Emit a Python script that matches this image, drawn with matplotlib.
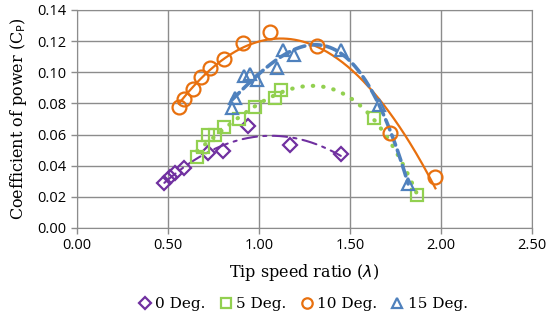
import numpy as np
import matplotlib.pyplot as plt

# 0 Deg.
tsr_0 = [0.48, 0.51, 0.54, 0.59, 0.72, 0.80, 0.94, 1.17, 1.45]
cp_0 = [0.0287, 0.0330, 0.0351, 0.0383, 0.0480, 0.0497, 0.0655, 0.0533, 0.0475]
# 5 Deg.
tsr_5 = [0.66, 0.69, 0.72, 0.76, 0.81, 0.89, 0.98, 1.09, 1.12, 1.63, 1.87]
cp_5 = [0.0458, 0.0522, 0.0597, 0.0597, 0.0650, 0.0698, 0.0775, 0.0833, 0.0886, 0.0705, 0.0212]
# 10 Deg.
tsr_10 = [0.56, 0.59, 0.64, 0.68, 0.73, 0.81, 0.91, 1.06, 1.32, 1.72, 1.97]
cp_10 = [0.0779, 0.0826, 0.0891, 0.0968, 0.1030, 0.1085, 0.1186, 0.1260, 0.1169, 0.0612, 0.0330]
# 15 Deg.
tsr_15 = [0.85, 0.87, 0.92, 0.95, 0.99, 1.10, 1.13, 1.19, 1.45, 1.66, 1.82]
cp_15 = [0.0769, 0.0833, 0.0976, 0.0990, 0.0950, 0.1026, 0.1143, 0.1110, 0.1143, 0.0790, 0.0280]

# name, x, y, marker, colour, trend linestyle, marker size, trend order
series = [
    ('0 Deg.', tsr_0, cp_0, 'D', '#7030A0', (0, (7, 3, 1.5, 3)), 7.5, 2),
    ('5 Deg.', tsr_5, cp_5, 's', '#92D050', (0, (0.1, 2.4)), 9, 3),
    ('10 Deg.', tsr_10, cp_10, 'o', '#E8700E', '-', 10, 2),
    ('15 Deg.', tsr_15, cp_15, '^', '#4F81BD', (0, (3, 1.5)), 9, 3),
]
trend_lw = {'0 Deg.': 1.5, '5 Deg.': 3.0, '10 Deg.': 1.6, '15 Deg.': 2.6}

fig = plt.figure(figsize=(5.5, 3.22), dpi=100)
ax = fig.add_axes([0.14, 0.292, 0.827, 0.677])

for name, x, y, m, c, ls, ms, order in series:
    ax.plot(x, y, m, mfc='none', mec=c, mew=1.6, ms=ms, label=name, zorder=3)
    coef = np.polyfit(x, y, order)
    xs = np.linspace(min(x), max(x), 200)
    ax.plot(xs, np.polyval(coef, xs), color=c, ls=ls, lw=trend_lw[name],
            dash_capstyle='round', zorder=2)

ax.set_xlim(0, 2.5)
ax.set_ylim(0, 0.14)
ax.set_xticks(np.arange(0, 2.51, 0.5))
ax.set_yticks(np.arange(0, 0.141, 0.02))
ax.xaxis.set_major_formatter(plt.FormatStrFormatter('%.2f'))
ax.yaxis.set_major_formatter(plt.FormatStrFormatter('%.2f'))
ax.grid(True, color='#8c8c8c', lw=1.0)
ax.set_axisbelow(True)
for s in ax.spines.values():
    s.set_color('#8c8c8c')
ax.tick_params(colors='#8c8c8c', labelcolor='black', labelsize=10.5, length=4, width=1)
for lbl in ax.get_xticklabels() + ax.get_yticklabels():
    lbl.set_family('Open Sans')

ax.set_xlabel('Tip speed ratio ($\\lambda$)', family='DejaVu Serif', fontsize=11.5, labelpad=6)
ax.set_ylabel('Coefficient of power (C$_\\mathrm{P}$)', family='DejaVu Serif', fontsize=11.5, labelpad=6)

leg = fig.legend(loc='lower center', bbox_to_anchor=(0.55, -0.01), ncol=4, frameon=False,
                 prop={'family': 'DejaVu Serif', 'size': 11}, handletextpad=0.2,
                 columnspacing=0.8, handlelength=1.0, markerscale=0.75)

fig.savefig('out.png', dpi=100)
